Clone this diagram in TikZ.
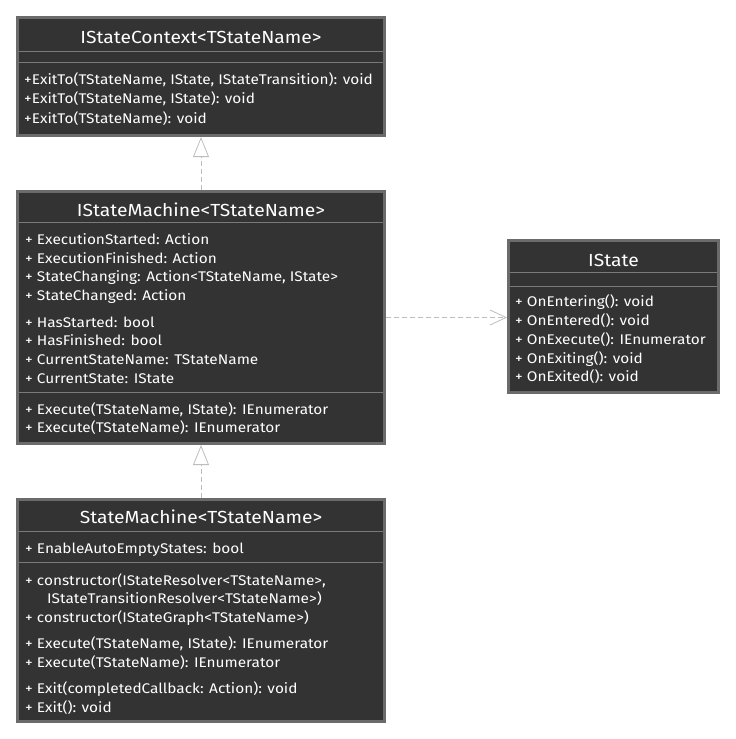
\documentclass[tikz,border=0pt]{standalone}
\usepackage{fontspec}
\setmainfont{Fira Sans}[FakeStretch=1.1]
\usetikzlibrary{arrows.meta}
\definecolor{boxfill}{HTML}{333333}
\definecolor{boxline}{HTML}{6B6B6B}
\definecolor{sepline}{HTML}{7A7A7A}
\definecolor{linkgray}{HTML}{BDBDBD}
\tikzset{
  umlbox/.style={draw=boxline, fill=boxfill, line width=3pt, outer sep=1.5pt, anchor=north west, inner sep=0pt},
  umltitle/.style={text=white, font=\fontsize{17.5}{20}\selectfont, anchor=base, inner sep=0pt},
  umlline/.style={text=white, font=\fontsize{14}{16}\selectfont, anchor=base west, inner sep=0pt},
  umlsep/.style={draw=sepline, line width=0.8pt},
  realize/.style={draw=linkgray, line width=0.8pt, dash pattern=on 5pt off 3pt, -{Triangle[open, width=16pt, length=20pt]}},
  depend/.style={draw=linkgray, line width=0.8pt, dash pattern=on 5pt off 3pt, -{Straight Barb[width=15pt, length=16pt]}},
}
\begin{document}
\begin{tikzpicture}[x=1pt, y=-1pt]
  \useasboundingbox (0,0) rectangle (736,739);

  % IStateContext
  \node[umlbox, minimum width=367pt, minimum height=118pt] (ctx) at (16,16) {};
  \node[umltitle] (ctx-t) at (201,43) {IStateContext<TStateName>};
  \draw[umlsep] (19,51) -- (383,51);
  \draw[umlsep] (19,62) -- (383,62);
  \foreach \y/\t [count=\i] in {84/{+ExitTo(TStateName, IState, IStateTransition): void},
      103.5/{+ExitTo(TStateName, IState): void}, 123/{+ExitTo(TStateName): void}}
    \node[umlline] (ctx-m\i) at (24,\y) {\t};

  % IStateMachine
  \node[umlbox, minimum width=367pt, minimum height=252pt] (ism) at (16,190) {};
  \node[umltitle] (ism-t) at (201,216) {IStateMachine<TStateName>};
  \draw[umlsep] (19,222) -- (383,222);
  \foreach \y/\t [count=\i] in {244/{+ ExecutionStarted: Action}, 263/{+ ExecutionFinished: Action},
      281.5/{+ StateChanging: Action<TStateName, IState>}, 300/{+ StateChanged: Action},
      327/{+ HasStarted: bool}, 345.5/{+ HasFinished: bool},
      364/{+ CurrentStateName: TStateName}, 383/{+ CurrentState: IState}}
    \node[umlline] (ism-a\i) at (25,\y) {\t};
  \draw[umlsep] (19,392) -- (383,392);
  \foreach \y/\t [count=\i] in {414/{+ Execute(TStateName, IState): IEnumerator},
      432.5/{+ Execute(TStateName): IEnumerator}}
    \node[umlline] (ism-m\i) at (25,\y) {\t};

  % IState
  \node[umlbox, minimum width=210pt, minimum height=152pt] (ist) at (507,239) {};
  \node[umltitle] (ist-t) at (613.5,266) {IState};
  \draw[umlsep] (510,272) -- (717,272);
  \draw[umlsep] (510,286) -- (717,286);
  \foreach \y/\t [count=\i] in {306/{+ OnEntering(): void}, 325/{+ OnEntered(): void},
      344/{+ OnExecute(): IEnumerator}, 363/{+ OnExiting(): void}, 381/{+ OnExited(): void}}
    \node[umlline] (ist-m\i) at (515,\y) {\t};

  % StateMachine
  \node[umlbox, minimum width=367pt, minimum height=222pt] (sm) at (16,498) {};
  \node[umltitle] (sm-t) at (201,523) {StateMachine<TStateName>};
  \draw[umlsep] (19,531) -- (383,531);
  \node[umlline] (sm-a1) at (25,553) {+ EnableAutoEmptyStates: bool};
  \draw[umlsep] (19,562) -- (383,562);
  \node[umlline] (sm-m1) at (25,585) {+ constructor(IStateResolver<TStateName>,};
  \node[umlline] (sm-m2) at (47,603.5) {IStateTransitionResolver<TStateName>)};
  \node[umlline] (sm-m3) at (25,622) {+ constructor(IStateGraph<TStateName>)};
  \foreach \y/\t [count=\i from 4] in {648/{+ Execute(TStateName, IState): IEnumerator},
      667/{+ Execute(TStateName): IEnumerator}, 693/{+ Exit(completedCallback: Action): void},
      712/{+ Exit(): void}}
    \node[umlline] (sm-m\i) at (25,\y) {\t};

  \draw[realize] (ism.north) -- (ctx.south);
  \draw[realize] (sm.north) -- (ism.south);
  \draw[depend] (ism.east) -- (ism.east -| ist.west);
\end{tikzpicture}
\end{document}
